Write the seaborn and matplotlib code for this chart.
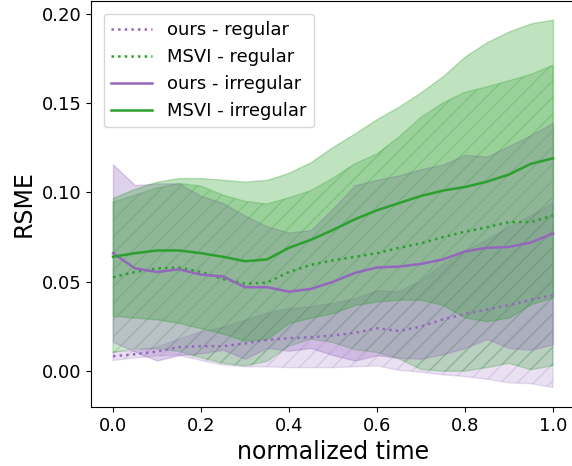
import numpy as np
import pandas as pd
import matplotlib
matplotlib.use("Agg")
import matplotlib.pyplot as plt
import seaborn as sns

# normalized time samples
t = [0.0, 0.05, 0.1, 0.15, 0.2, 0.25, 0.3, 0.35, 0.4, 0.45, 0.5,
     0.55, 0.6, 0.65, 0.7, 0.75, 0.8, 0.85, 0.9, 0.95, 1.0]

# ours - regular
ours_reg_mean = [0.0084, 0.0095, 0.011, 0.0135, 0.014, 0.014, 0.0155, 0.0175, 0.0185, 0.019, 0.020,
                 0.0215, 0.024, 0.0225, 0.025, 0.029, 0.032, 0.0345, 0.037, 0.040, 0.0425]
ours_reg_std = [0.0024, 0.002, 0.0025, 0.0045, 0.008, 0.0105, 0.013, 0.015, 0.0165, 0.017, 0.018,
                0.019, 0.021, 0.022, 0.0255, 0.031, 0.035, 0.039, 0.0435, 0.047, 0.0516]

# MSVI - regular
msvi_reg_mean = [0.0525, 0.0555, 0.0575, 0.058, 0.0555, 0.0515, 0.049, 0.0495, 0.0555, 0.0595, 0.062,
                 0.064, 0.066, 0.069, 0.0715, 0.075, 0.078, 0.0805, 0.0834, 0.0834, 0.0871]
msvi_reg_std = [0.042, 0.043, 0.045, 0.047, 0.048, 0.047, 0.046, 0.044, 0.0415, 0.0415, 0.046,
                0.052, 0.0555, 0.062, 0.0705, 0.075, 0.078, 0.0785, 0.079, 0.0826, 0.084]

# ours - irregular
ours_irr_mean = [0.066, 0.0575, 0.0555, 0.057, 0.054, 0.053, 0.047, 0.047, 0.0445, 0.046, 0.050,
                 0.055, 0.058, 0.0585, 0.060, 0.0625, 0.067, 0.069, 0.0695, 0.072, 0.077]
ours_irr_std = [0.0496, 0.0465, 0.0495, 0.048, 0.044, 0.041, 0.040, 0.034, 0.033, 0.033, 0.041,
                0.049, 0.049, 0.051, 0.053, 0.053, 0.054, 0.051, 0.0565, 0.060, 0.062]

# MSVI - irregular
msvi_irr_mean = [0.064, 0.066, 0.0675, 0.0675, 0.066, 0.064, 0.0615, 0.0625, 0.069, 0.0735, 0.079,
                 0.085, 0.090, 0.094, 0.098, 0.101, 0.103, 0.106, 0.110, 0.116, 0.119]
msvi_irr_std = [0.033, 0.036, 0.0385, 0.0405, 0.042, 0.043, 0.0445, 0.0445, 0.042, 0.0435, 0.0465,
                0.048, 0.051, 0.054, 0.058, 0.064, 0.073, 0.078, 0.080, 0.0785, 0.0776]

labels = ["ours - regular", "MSVI - regular", "ours - irregular", "MSVI - irregular"]
means = [ours_reg_mean, msvi_reg_mean, ours_irr_mean, msvi_irr_mean]
stds = [ours_reg_std, msvi_reg_std, ours_irr_std, msvi_irr_std]
colors = ["#9467bd", "#2ca02c", "#9467bd", "#2ca02c"]
styles = [":", ":", "-", "-"]
hatches = ["//", "//", None, None]
alphas = [0.2, 0.25, 0.3, 0.3]

fig = plt.figure(figsize=(5.72, 4.66), dpi=100)
ax = fig.add_axes([91 / 572, 59 / 466, 484 / 572, 406 / 466])

tt = np.array(t)
for lab, m, s, c, ls, h, a in zip(labels, means, stds, colors, styles, hatches, alphas):
    m = np.array(m)
    s = np.array(s)
    df = pd.DataFrame({"t": tt, "v": m})
    sns.lineplot(data=df, x="t", y="v", ax=ax, color=c, linestyle=ls, linewidth=1.8, label=lab)
    ax.fill_between(tt, m - s, m + s, color=c, alpha=a, hatch=h, linewidth=1)

ax.set_xlim(-0.05, 1.05)
ax.set_ylim(-0.02, 0.207)
ax.set_xticks([0.0, 0.2, 0.4, 0.6, 0.8, 1.0])
ax.set_yticks([0.0, 0.05, 0.10, 0.15, 0.20])
ax.tick_params(labelsize=13)
ax.set_xlabel("normalized time", fontsize=17)
ax.set_ylabel("RSME", fontsize=17)
ax.legend(loc="upper left", fontsize=13, handlelength=2.3, borderaxespad=0.7)

fig.savefig("out.png", dpi=100)
